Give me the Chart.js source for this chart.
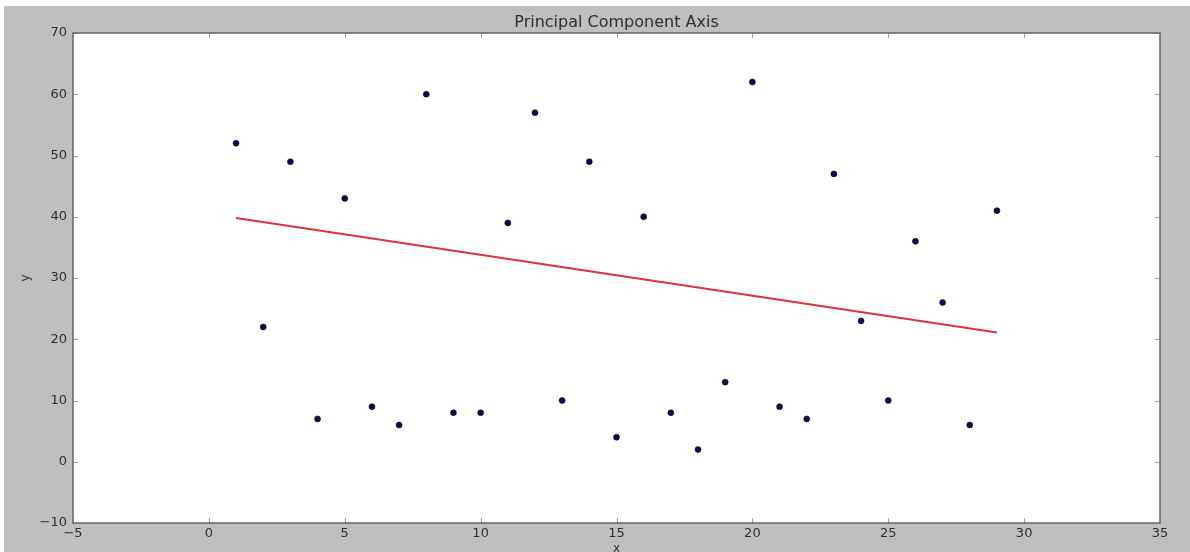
<!DOCTYPE html>
<html>
<head>
<meta charset="utf-8">
<script src="https://cdn.jsdelivr.net/npm/chart.js@4"></script>
<style>
  html, body { margin: 0; padding: 0; background: #fff; }
  #wrap { width: 1190px; height: 552px; }
</style>
</head>
<body>
<div id="wrap"><canvas id="chart" width="1190" height="552"></canvas></div>
<script>
// data
const xValues = [1, 2, 3, 4, 5, 6, 7, 8, 9, 10, 11, 12, 13, 14, 15, 16, 17, 18, 19, 20, 21, 22, 23, 24, 25, 26, 27, 28, 29];
const yValues = [52, 22, 49, 7, 43, 9, 6, 60, 8, 8, 39, 57, 10, 49, 4, 40, 8, 2, 13, 62, 9, 7, 47, 23, 10, 36, 26, 6, 41];
const axisX = [1, 29];
const axisY = [39.8, 21.1];
const xTicks = [-5, 0, 5, 10, 15, 20, 25, 30, 35];
const yTicks = [-10, 0, 10, 20, 30, 40, 50, 60, 70];

const points = xValues.map((x, i) => ({ x: x, y: yValues[i] }));
const axisLine = axisX.map((x, i) => ({ x: x, y: axisY[i] }));

// gray figure background + white axes area
const bgPlugin = {
    id: 'bg',
    beforeDraw(chart) {
        const { ctx, chartArea: a } = chart;
        ctx.save();
        ctx.fillStyle = '#bfbfbf';
        ctx.fillRect(4, 6, chart.width - 4, chart.height - 6);
        ctx.fillStyle = '#ffffff';
        ctx.fillRect(a.left, a.top, a.right - a.left, a.bottom - a.top);
        ctx.restore();
    }
};

// matplotlib classic look: frame on all sides, ticks pointing inwards
const framePlugin = {
    id: 'frame',
    afterDraw(chart) {
        const { ctx, chartArea: a, scales } = chart;
        ctx.save();
        ctx.strokeStyle = '#a0a0a0';
        ctx.lineWidth = 1;
        ctx.beginPath();
        xTicks.forEach(v => {
            const px = Math.round(scales.x.getPixelForValue(v)) + 0.5;
            ctx.moveTo(px, a.bottom); ctx.lineTo(px, a.bottom - 5);
            ctx.moveTo(px, a.top); ctx.lineTo(px, a.top + 5);
        });
        yTicks.forEach(v => {
            const py = Math.round(scales.y.getPixelForValue(v)) + 0.5;
            ctx.moveTo(a.left, py); ctx.lineTo(a.left + 5, py);
            ctx.moveTo(a.right, py); ctx.lineTo(a.right - 5, py);
        });
        ctx.stroke();
        ctx.strokeStyle = '#666666';
        ctx.lineWidth = 1.5;
        ctx.strokeRect(a.left, a.top, a.right - a.left, a.bottom - a.top);
        ctx.restore();
    }
};

const tickFont = { family: 'DejaVu Sans', size: 13 };
const minusLabel = v => String(v).replace('-', '\u2212');

new Chart(document.getElementById('chart'), {
    type: 'scatter',
    data: {
        datasets: [
            {
                label: 'axis',
                type: 'line',
                data: axisLine,
                borderColor: '#e0343c',
                borderWidth: 2,
                pointRadius: 0,
                fill: false
            },
            {
                label: 'points',
                data: points,
                backgroundColor: '#0a0a55',
                borderColor: '#000000',
                borderWidth: 0.5,
                pointRadius: 3
            }
        ]
    },
    options: {
        responsive: false,
        animation: false,
        layout: { padding: { top: 6, right: 30, bottom: 0, left: 0 } },
        plugins: {
            legend: { display: false },
            tooltip: { enabled: false },
            title: {
                display: true,
                text: 'Principal Component Axis',
                fullSize: false,
                color: '#2e2e2e',
                font: { family: 'DejaVu Sans', size: 16, weight: 'normal' },
                padding: { top: 7.4, bottom: 0.4 }
            }
        },
        scales: {
            x: {
                type: 'linear',
                min: -5,
                max: 35,
                afterBuildTicks: s => { s.ticks = xTicks.map(v => ({ value: v })); },
                afterFit: s => { s.height = 29; },
                grid: { display: false, drawTicks: false },
                border: { display: false },
                ticks: { color: '#2e2e2e', font: tickFont, padding: 3, maxRotation: 0, callback: minusLabel },
                title: {
                    display: true, text: 'x', color: '#333333',
                    font: { family: 'DejaVu Sans', size: 12 },
                    padding: { top: 0, bottom: -4 }
                }
            },
            y: {
                type: 'linear',
                min: -10,
                max: 70,
                afterBuildTicks: s => { s.ticks = yTicks.map(v => ({ value: v })); },
                afterFit: s => { s.width = 73; },
                grid: { display: false, drawTicks: false },
                border: { display: false },
                ticks: { color: '#2e2e2e', font: tickFont, padding: 6, callback: minusLabel },
                title: {
                    display: true, text: 'y', color: '#333333',
                    font: { family: 'DejaVu Sans', size: 12 },
                    padding: { top: 19, bottom: 0 }
                }
            }
        }
    },
    plugins: [bgPlugin, framePlugin]
});
</script>
</body>
</html>
